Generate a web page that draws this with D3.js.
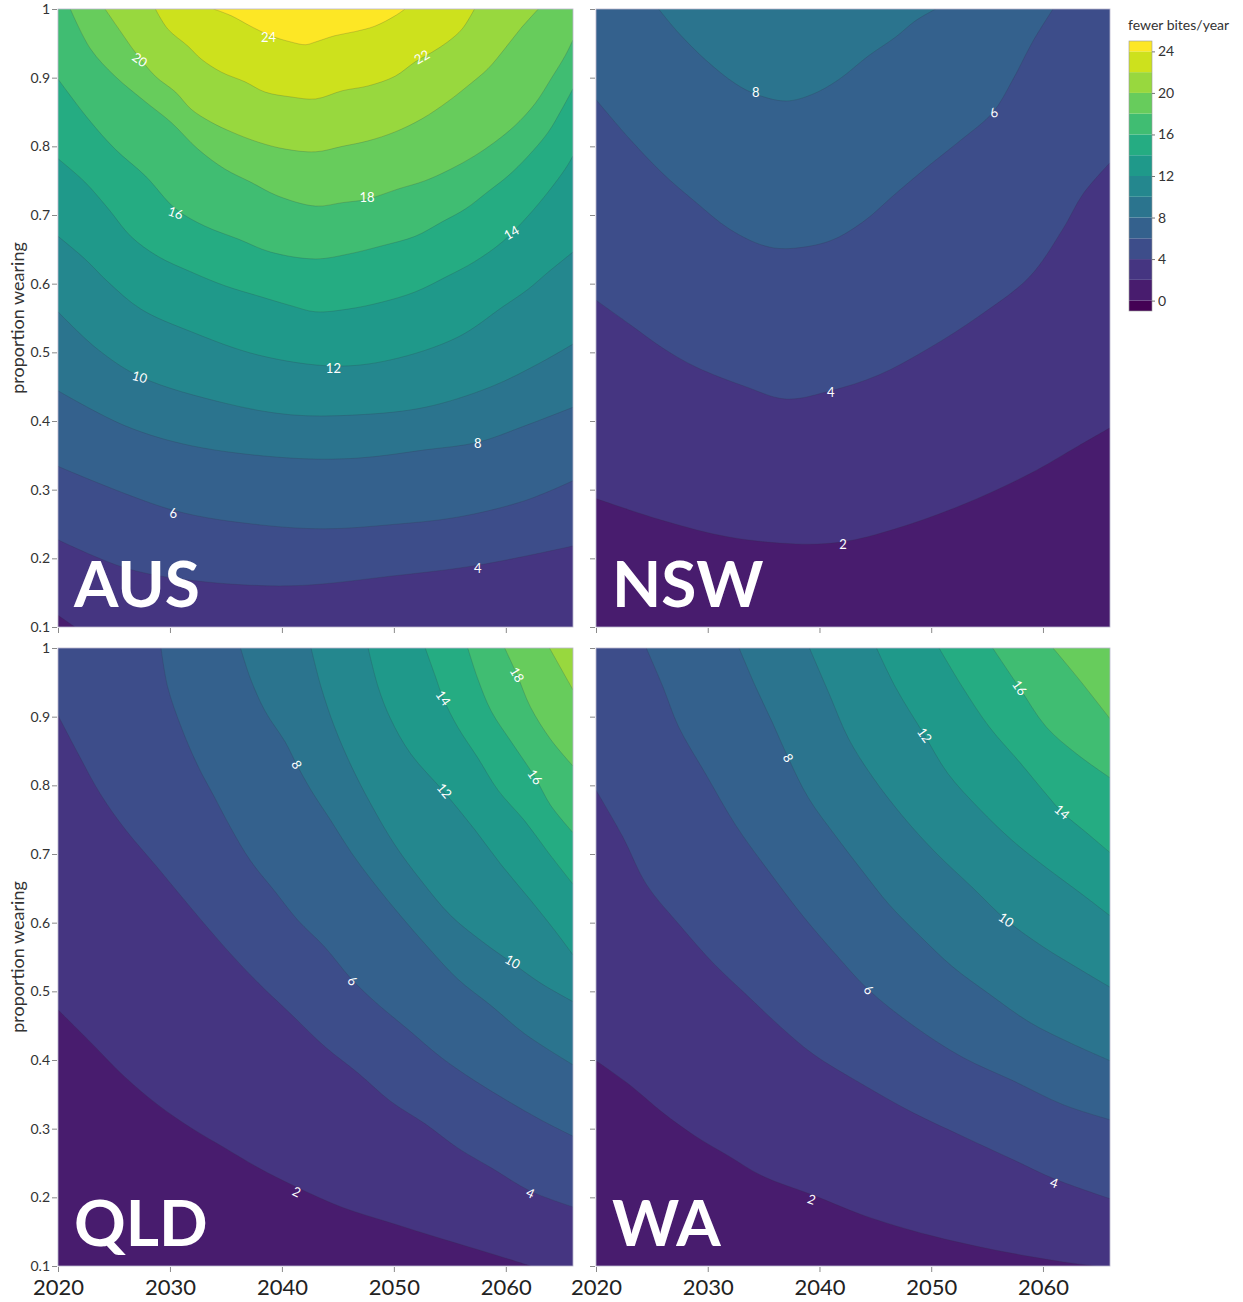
<!DOCTYPE html>
<html><head><meta charset="utf-8">
<script src="https://cdn.jsdelivr.net/npm/d3@7"></script>
<style>
body{margin:0;background:#fff;}
svg{display:block;}
text{font-family:Lato,"Noto Sans",sans-serif;}
</style></head><body>
<svg id="chart" width="1243" height="1302"></svg>
<script>
// ---------- data ----------
const panelNames = ["AUS","NSW","QLD","WA"];
const yearDomain = [2020, 2066];
const propDomain = [0.1, 1];
const yearTicks = [2020, 2030, 2040, 2050, 2060];
const propTicks = [0.1,0.2,0.3,0.4,0.5,0.6,0.7,0.8,0.9,1];
const legendTicks = [0,4,8,12,16,20,24];
const legendBreaks = [-1,0,2,4,6,8,10,12,14,16,18,20,22,24,25];
const legendTitle = "fewer bites/year";
const axisTitle = "proportion wearing";

// contour lines: [year, proportion wearing]
const ausContours = [
 {level:2, line:[[2020,0.117],[2021.5,0.1]]},
 {level:4, line:[[2020,0.227],[2026.0,0.186],[2031.9,0.168],[2040.8,0.160],[2049.7,0.174],[2057.5,0.190],[2066,0.218]]},
 {level:6, line:[[2020,0.334],[2030.3,0.270],[2037.9,0.249],[2043.8,0.243],[2049.7,0.249],[2055.7,0.260],[2061.7,0.284],[2066,0.313]]},
 {level:8, line:[[2020,0.444],[2026.0,0.393],[2031.9,0.364],[2040.8,0.346],[2046.8,0.346],[2052.8,0.358],[2057.5,0.369],[2061.7,0.393],[2066,0.420]]},
 {level:10, line:[[2020,0.559],[2023.5,0.505],[2027.4,0.464],[2034.9,0.426],[2040.8,0.409],[2046.8,0.409],[2052.8,0.420],[2058.7,0.450],[2063.1,0.485],[2066,0.512]]},
 {level:12, line:[[2020,0.669],[2022.4,0.636],[2024.5,0.602],[2027.4,0.563],[2031.9,0.530],[2037.9,0.496],[2044.7,0.480],[2049.7,0.489],[2055.7,0.522],[2059.7,0.566],[2062.0,0.592],[2063.8,0.617],[2066,0.646]]},
 {level:14, line:[[2020,0.782],[2022.4,0.748],[2024.5,0.709],[2026.5,0.669],[2028.9,0.640],[2031.9,0.617],[2034.9,0.597],[2037.9,0.582],[2040.8,0.568],[2043.0,0.559],[2045.9,0.563],[2048.9,0.573],[2051.9,0.588],[2054.8,0.611],[2057.2,0.632],[2059.7,0.661],[2062.0,0.699],[2063.8,0.734],[2065.3,0.767],[2066,0.786]]},
 {level:16, line:[[2020,0.898],[2022.7,0.840],[2025.1,0.796],[2027.8,0.757],[2030.5,0.709],[2033.1,0.684],[2036.1,0.665],[2039.0,0.646],[2043.0,0.636],[2045.9,0.643],[2048.9,0.655],[2051.9,0.669],[2054.3,0.690],[2056.4,0.709],[2058.4,0.734],[2060.2,0.757],[2062.0,0.786],[2063.8,0.821],[2065.0,0.854],[2066,0.884]]},
 {level:18, line:[[2021.1,1.0],[2022.9,0.942],[2025.1,0.902],[2027.8,0.865],[2030.1,0.835],[2032.5,0.796],[2034.9,0.767],[2037.2,0.748],[2039.6,0.728],[2043.0,0.713],[2045.4,0.718],[2047.6,0.723],[2050.4,0.738],[2052.8,0.750],[2055.1,0.767],[2057.2,0.786],[2059.0,0.806],[2060.8,0.830],[2062.6,0.862],[2064.1,0.900],[2065.3,0.932],[2066,0.955]]},
 {level:20, line:[[2024.2,1.0],[2025.6,0.967],[2026.9,0.937],[2028.7,0.902],[2030.5,0.879],[2031.9,0.854],[2033.7,0.835],[2035.5,0.821],[2037.9,0.806],[2040.3,0.796],[2043.0,0.792],[2045.4,0.800],[2047.7,0.808],[2050.1,0.821],[2052.5,0.840],[2054.8,0.865],[2056.6,0.888],[2058.4,0.913],[2059.9,0.942],[2061.3,0.971],[2062.9,1.0]]},
 {level:22, line:[[2028.7,1.0],[2029.8,0.971],[2031.6,0.946],[2032.8,0.927],[2034.6,0.908],[2036.7,0.894],[2038.5,0.879],[2040.8,0.872],[2043.0,0.869],[2045.4,0.881],[2047.7,0.888],[2050.1,0.902],[2051.9,0.923],[2053.4,0.937],[2054.8,0.952],[2056.1,0.971],[2057.2,1.0]]},
 {level:24, line:[[2033.9,1.0],[2035.5,0.990],[2037.2,0.975],[2039.0,0.961],[2040.8,0.952],[2042.1,0.948],[2043.0,0.952],[2044.7,0.961],[2046.5,0.967],[2048.3,0.975],[2050.1,0.990],[2051.0,1.0]]}
];
const nswContours = [
 {level:2, line:[[2020,0.287],[2026.0,0.255],[2031.9,0.231],[2037.9,0.221],[2042.1,0.224],[2046.8,0.243],[2052.8,0.278],[2058.8,0.323],[2063.2,0.364],[2066,0.390]]},
 {level:4, line:[[2020,0.576],[2023.0,0.541],[2026.0,0.506],[2028.9,0.479],[2033.4,0.450],[2037.0,0.432],[2041.0,0.444],[2045.3,0.467],[2049.8,0.506],[2054.3,0.553],[2058.8,0.610],[2061.8,0.680],[2063.6,0.731],[2066,0.776]]},
 {level:6, line:[[2020,0.868],[2023.0,0.811],[2026.0,0.760],[2028.9,0.719],[2031.9,0.680],[2034.9,0.656],[2037.0,0.651],[2040.9,0.662],[2043.9,0.690],[2046.8,0.731],[2049.8,0.772],[2052.8,0.811],[2055.5,0.849],[2057.3,0.897],[2059.1,0.953],[2060.9,1.0]]},
 {level:8, line:[[2025.6,1.0],[2027.4,0.965],[2029.8,0.926],[2032.5,0.891],[2034.3,0.876],[2037.0,0.866],[2039.4,0.876],[2041.7,0.897],[2044.4,0.932],[2046.8,0.959],[2048.6,0.983],[2050.4,1.0]]}
];
const qldContours = [
 {level:2, line:[[2020,0.473],[2022.9,0.426],[2026.0,0.375],[2028.9,0.335],[2031.9,0.301],[2034.9,0.272],[2037.9,0.243],[2041.3,0.215],[2045.3,0.186],[2049.7,0.163],[2054.2,0.140],[2058.7,0.118],[2062.2,0.1]]},
 {level:4, line:[[2020,0.902],[2021.8,0.846],[2023.8,0.787],[2026.0,0.736],[2028.9,0.680],[2031.9,0.621],[2034.9,0.564],[2037.9,0.512],[2040.8,0.467],[2043.8,0.420],[2046.8,0.381],[2049.7,0.340],[2052.8,0.307],[2055.7,0.272],[2058.7,0.243],[2062.2,0.209],[2066,0.186]]},
 {level:6, line:[[2029.2,1.0],[2029.8,0.943],[2031.0,0.885],[2032.5,0.828],[2034.0,0.782],[2035.5,0.736],[2037.2,0.690],[2039.4,0.645],[2041.4,0.604],[2043.8,0.565],[2046.2,0.518],[2048.3,0.485],[2051.3,0.444],[2054.2,0.404],[2057.2,0.370],[2060.2,0.340],[2063.1,0.313],[2066,0.289]]},
 {level:8, line:[[2036.3,1.0],[2037.2,0.955],[2038.5,0.908],[2040.3,0.863],[2041.3,0.831],[2042.6,0.793],[2044.4,0.748],[2046.2,0.702],[2048.3,0.656],[2050.6,0.610],[2053.0,0.565],[2055.7,0.518],[2058.7,0.479],[2061.7,0.438],[2066,0.393]]},
 {level:10, line:[[2042.6,1.0],[2043.5,0.943],[2044.7,0.885],[2046.2,0.828],[2048.0,0.771],[2050.1,0.713],[2052.4,0.662],[2055.1,0.610],[2058.1,0.570],[2060.6,0.541],[2063.1,0.512],[2066,0.485]]},
 {level:12, line:[[2047.7,1.0],[2048.6,0.943],[2049.7,0.897],[2051.5,0.846],[2054.5,0.790],[2057.2,0.736],[2059.6,0.684],[2062.2,0.633],[2064.4,0.588],[2066,0.553]]},
 {level:14, line:[[2052.8,1.0],[2053.7,0.959],[2054.4,0.927],[2055.7,0.885],[2057.5,0.840],[2059.3,0.793],[2061.7,0.748],[2063.8,0.702],[2066,0.656]]},
 {level:16, line:[[2056.6,1.0],[2057.5,0.955],[2058.7,0.908],[2060.5,0.863],[2062.6,0.812],[2064.0,0.771],[2066,0.731]]},
 {level:18, line:[[2059.9,1.0],[2061.0,0.961],[2062.2,0.914],[2064.0,0.867],[2066,0.828]]},
 {level:20, line:[[2063.9,1.0],[2065.0,0.968],[2066,0.939]]}
];
const waContours = [
 {level:2, line:[[2020,0.399],[2023.0,0.364],[2026.0,0.323],[2028.9,0.289],[2031.9,0.260],[2034.9,0.231],[2039.3,0.204],[2043.9,0.174],[2049.8,0.145],[2055.8,0.123],[2061.8,0.106],[2064.7,0.1]]},
 {level:4, line:[[2020,0.793],[2022.4,0.725],[2024.5,0.656],[2027.4,0.598],[2030.5,0.541],[2033.4,0.496],[2036.4,0.450],[2039.4,0.409],[2043.9,0.364],[2048.4,0.323],[2052.8,0.289],[2057.3,0.255],[2061.0,0.227],[2066,0.198]]},
 {level:6, line:[[2024.5,1.0],[2026.0,0.943],[2027.4,0.885],[2029.8,0.817],[2032.5,0.742],[2035.5,0.674],[2038.5,0.610],[2041.5,0.553],[2044.4,0.502],[2048.4,0.450],[2052.8,0.404],[2057.3,0.370],[2061.8,0.335],[2066,0.313]]},
 {level:8, line:[[2032.8,1.0],[2034.3,0.943],[2035.8,0.891],[2037.2,0.840],[2039.0,0.782],[2041.5,0.725],[2043.9,0.674],[2046.2,0.627],[2048.9,0.582],[2051.9,0.536],[2055.2,0.496],[2058.8,0.455],[2062.3,0.426],[2066,0.399]]},
 {level:10, line:[[2039.1,1.0],[2040.9,0.932],[2042.6,0.868],[2044.8,0.811],[2047.5,0.754],[2050.4,0.702],[2053.7,0.651],[2056.7,0.604],[2060.0,0.565],[2063.0,0.535],[2066,0.506]]},
 {level:12, line:[[2045.1,1.0],[2046.8,0.943],[2049.4,0.873],[2051.5,0.817],[2054.3,0.766],[2057.3,0.719],[2060.3,0.680],[2063.2,0.645],[2066,0.610]]},
 {level:14, line:[[2050.7,1.0],[2052.8,0.943],[2055.2,0.885],[2057.9,0.834],[2060.3,0.787],[2061.7,0.761],[2063.9,0.731],[2066,0.702]]},
 {level:16, line:[[2055.5,1.0],[2057.9,0.942],[2060.3,0.885],[2063.0,0.846],[2066,0.811]]},
 {level:18, line:[[2060.9,1.0],[2063.2,0.955],[2066,0.897]]}
];

// contour labels: [text, year, proportion, rotation]
const ausLabels = [["24",2038.8,0.959,0],["22",2052.5,0.930,-30],["20",2027.3,0.926,35],["18",2047.6,0.726,0],
 ["16",2030.5,0.703,20],["14",2060.5,0.674,-30],["12",2044.6,0.477,0],["10",2027.3,0.464,15],
 ["8",2057.5,0.367,0],["6",2030.3,0.265,0],["4",2057.5,0.185,0]];
const nswLabels = [["8",2034.3,0.879,0],["6",2055.6,0.849,-25],["4",2041.0,0.442,0],["2",2042.1,0.220,0]];
const qldLabels = [["18",2061.0,0.961,60],["14",2054.4,0.927,55],["8",2041.3,0.830,60],["12",2054.5,0.792,50],
 ["16",2062.6,0.812,55],["10",2060.6,0.543,30],["6",2046.3,0.515,45],["2",2041.3,0.208,25],["4",2062.2,0.206,25]];
const waLabels = [["16",2057.9,0.942,55],["12",2049.4,0.873,55],["8",2037.2,0.840,60],["14",2061.7,0.761,40],
 ["10",2056.7,0.604,35],["6",2044.4,0.502,45],["4",2061.0,0.221,20],["2",2039.3,0.197,20]];

// ---------- layout ----------
const panels = [
 {name:panelNames[0], contours:ausContours, labels:ausLabels, x0:58,  x1:573,  y0:9,   y1:627,  left:true,  bottom:false},
 {name:panelNames[1], contours:nswContours, labels:nswLabels, x0:596, x1:1110, y0:9,   y1:627,  left:false, bottom:false},
 {name:panelNames[2], contours:qldContours, labels:qldLabels, x0:58,  x1:573,  y0:648, y1:1266, left:true,  bottom:true},
 {name:panelNames[3], contours:waContours,  labels:waLabels,  x0:596, x1:1110, y0:648, y1:1266, left:false, bottom:true}
];

const svg = d3.select("#chart");
const defs = svg.append("defs");
const color = L => d3.interpolateViridis((L + 2) / 26);

function perim(pt){
  const u = (pt[0]-yearDomain[0])/(yearDomain[1]-yearDomain[0]);
  const v = (pt[1]-propDomain[0])/(propDomain[1]-propDomain[0]);
  const eps = 1e-6;
  if (Math.abs(u) < eps) return v;
  if (Math.abs(v-1) < eps) return 1 + u;
  if (Math.abs(u-1) < eps) return 2 + (1 - v);
  return 3 + (1 - u);
}
const cornerPts = [[yearDomain[0],propDomain[0]],[yearDomain[0],propDomain[1]],[yearDomain[1],propDomain[1]],[yearDomain[1],propDomain[0]]];

panels.forEach((p, i) => {
  const x = d3.scaleLinear().domain(yearDomain).range([p.x0, p.x1]);
  const y = d3.scaleLinear().domain(propDomain).range([p.y1, p.y0]);
  defs.append("clipPath").attr("id","clip"+i).append("rect")
    .attr("x",p.x0).attr("y",p.y0).attr("width",p.x1-p.x0).attr("height",p.y1-p.y0);
  const g = svg.append("g");
  const fg = g.append("g").attr("clip-path",`url(#clip${i})`);
  const minLevel = d3.min(p.contours, c => c.level);
  fg.append("rect").attr("x",p.x0).attr("y",p.y0).attr("width",p.x1-p.x0).attr("height",p.y1-p.y0)
    .attr("fill", color(minLevel - 2));
  const lineGen = d3.line().x(d => x(d[0])).y(d => y(d[1])).curve(d3.curveCatmullRom.alpha(0.5));
  p.contours.forEach(c => {
    const pts = c.line;
    const st = perim(pts[0]);
    let e = perim(pts[pts.length-1]);
    if (st > e) e += 4;
    let d = lineGen(pts);
    for (let k = Math.ceil(e - 1e-9) - 1; k >= Math.floor(st + 1e-9) + 1; k--) {
      const cp = cornerPts[((k % 4) + 4) % 4];
      d += `L${x(cp[0])},${y(cp[1])}`;
    }
    d += "Z";
    fg.append("path").attr("d", d).attr("fill", color(c.level));
  });
  p.contours.forEach(c => {
    fg.append("path").attr("d", lineGen(c.line)).attr("fill","none")
      .attr("stroke","#30303c").attr("stroke-opacity",0.28).attr("stroke-width",0.7);
  });
  // contour labels
  fg.selectAll("text.cl").data(p.labels).enter().append("text")
    .attr("class","cl")
    .attr("transform", d => `translate(${x(d[1])},${y(d[2])}) rotate(${d[3]})`)
    .attr("text-anchor","middle").attr("dy","0.35em")
    .attr("fill","#fff").attr("font-size",13).text(d => d[0]);
  // panel name
  fg.append("text").attr("x", p.x0 + 16).attr("y", p.y1 - 20)
    .attr("fill","#fff").attr("font-size",64).attr("font-weight",700).text(p.name);
  // border
  g.append("rect").attr("x",p.x0).attr("y",p.y0).attr("width",p.x1-p.x0).attr("height",p.y1-p.y0)
    .attr("fill","none").attr("stroke","#b9b6cc").attr("stroke-width",0.8);

  // axes
  const yAxis = d3.axisLeft(y).tickValues(propTicks).tickSize(5).tickPadding(2)
    .tickFormat(p.left ? (d => d === 1 ? "1" : d3.format(".1f")(d)) : "");
  const ya = g.append("g").attr("transform",`translate(${p.x0 - 1},0)`).call(yAxis);
  ya.select(".domain").remove();
  ya.selectAll(".tick line").attr("stroke","#8a8a8a");
  ya.selectAll(".tick text").attr("font-size",14).attr("fill","#333").style("font-family","Lato, 'Noto Sans', sans-serif");

  const xAxis = d3.axisBottom(x).tickValues(yearTicks).tickSize(5).tickPadding(7)
    .tickFormat(p.bottom ? d3.format("d") : "");
  const xa = g.append("g").attr("transform",`translate(0,${p.y1 + 1})`).call(xAxis);
  xa.select(".domain").remove();
  xa.selectAll(".tick line").attr("stroke","#8a8a8a");
  xa.selectAll(".tick text").attr("font-size",22).attr("fill","#222").style("font-family","Lato, 'Noto Sans', sans-serif");

  if (p.left) {
    svg.append("text")
      .attr("transform",`translate(24,${(p.y0 + p.y1) / 2}) rotate(-90)`)
      .attr("text-anchor","middle").attr("font-size",18).attr("fill","#333").text(axisTitle);
  }
});

// ---------- legend ----------
const ly = d3.scaleLinear().domain([legendBreaks[0], legendBreaks[legendBreaks.length-1]]).range([311, 41]);
const lg = svg.append("g");
lg.append("text").attr("x",1128).attr("y",30).attr("font-size",14).attr("fill","#333").text(legendTitle);
const bandPairs = d3.pairs(legendBreaks);
lg.selectAll("rect.band").data(bandPairs).enter().append("rect")
  .attr("class","band").attr("x",1129).attr("width",23)
  .attr("y", d => ly(d[1])).attr("height", d => ly(d[0]) - ly(d[1]))
  .attr("fill", d => color(2 * Math.floor(d[0] / 2)));
lg.append("rect").attr("x",1129).attr("y",ly(25)).attr("width",23).attr("height",ly(-1)-ly(25))
  .attr("fill","none").attr("stroke","#9a9a9a").attr("stroke-width",0.6);
const la = lg.append("g").attr("transform","translate(1152,0)")
  .call(d3.axisRight(ly).tickValues(legendTicks).tickSize(3).tickPadding(3));
la.select(".domain").remove();
la.selectAll(".tick line").attr("stroke","#777");
la.selectAll(".tick text").attr("font-size",14).attr("fill","#333").style("font-family","Lato, 'Noto Sans', sans-serif");
</script>
</body></html>
